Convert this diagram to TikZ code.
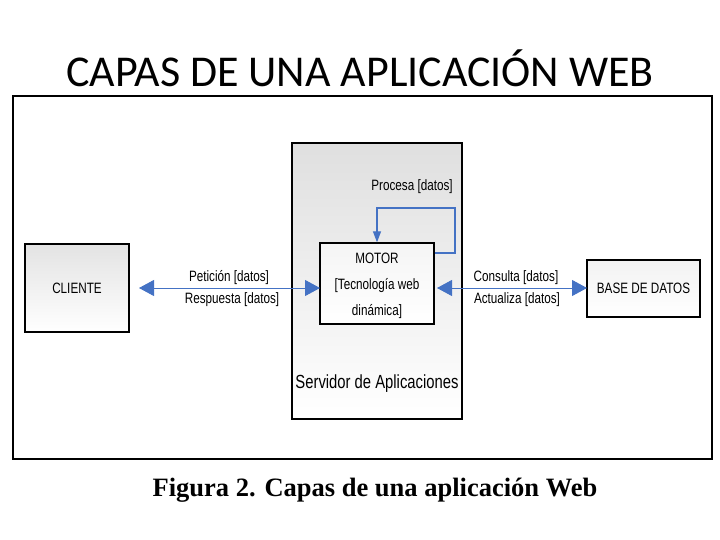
\documentclass[tikz,border=0pt]{standalone}
\usepackage{fontspec}
\setmainfont{Liberation Sans}
\newfontfamily\titlefont{Carlito}
\newfontfamily\narrowfont[FakeStretch=0.78]{Liberation Sans}
\newfontfamily\capfont{Liberation Serif}
\usetikzlibrary{arrows.meta}
\definecolor{arrblue}{HTML}{4472C4}
\tikzset{
  box/.style={draw=black, line width=1.3pt, top color=gray!22, bottom color=white, inner sep=0pt},
  lbl/.style={font=\narrowfont\fontsize{15}{17}\selectfont, inner sep=0pt, anchor=center},
  conn/.style={draw=arrblue, line width=0.9pt, {Triangle[length=15pt,width=16pt]}-{Triangle[length=15pt,width=16pt]}},
  loop/.style={draw=arrblue, line width=1.2pt, -{Triangle[length=11pt,width=8pt]}}
}
\begin{document}
\begin{tikzpicture}[x=1pt,y=-1pt]
\useasboundingbox (0,0) rectangle (720,540);
\node[font=\titlefont\fontsize{44}{48}\selectfont, inner sep=0pt] (title) at (360,68) {CAPAS DE UNA APLICACIÓN WEB};
\node[draw=black, line width=1.3pt, minimum width=699pt, minimum height=363pt, inner sep=0pt] (frame) at (362.5,277.5) {};
\node[box, minimum width=104pt, minimum height=88pt] (cliente) at (77,288) {};
\node[lbl] at (cliente.center) {CLIENTE};
\node[box, top color=gray!25, minimum width=170pt, minimum height=276pt] (server) at (377,281) {};
\node[box, top color=gray!8, minimum width=114pt, minimum height=81pt] (motor) at (377,283.5) {};
\node[lbl] at (377,258) {MOTOR};
\node[lbl] at (377,286) {[Tecnología web};
\node[lbl] at (377,312) {dinámica]};
\node[box, top color=gray!10, minimum width=113pt, minimum height=57pt] (bd) at (643.5,288.5) {};
\node[lbl] at (bd.center) {BASE DE DATOS};
\node[lbl, font=\narrowfont\fontsize{19}{21}\selectfont] (srvlbl) at (377,384) {Servidor de Aplicaciones};
\node[lbl] (pet) at (229,278) {Petición [datos]};
\node[lbl] (resp) at (232,300) {Respuesta [datos]};
\node[lbl] (cons) at (516,278) {Consulta [datos]};
\node[lbl] (act) at (517,300) {Actualiza [datos]};
\node[lbl] (proc) at (412,187) {Procesa [datos]};
\coordinate (cl) at (139,288);
\coordinate (ml) at (320,288);
\coordinate (mr) at (437,288);
\coordinate (bl) at (587,288);
\draw[conn] (cl) -- (ml);
\draw[conn] (mr) -- (bl);
\coordinate (lp1) at (motor.east |- 0,253);
\draw[loop] (lp1) -- (455,253) -- (455,208) -- (377,208) -- (motor.north);
\node[font=\capfont\bfseries\fontsize{26.5}{30}\selectfont, inner sep=0pt] (cap) at (375,490) {Figura 2. Capas de una aplicación Web};
\end{tikzpicture}
\end{document}
